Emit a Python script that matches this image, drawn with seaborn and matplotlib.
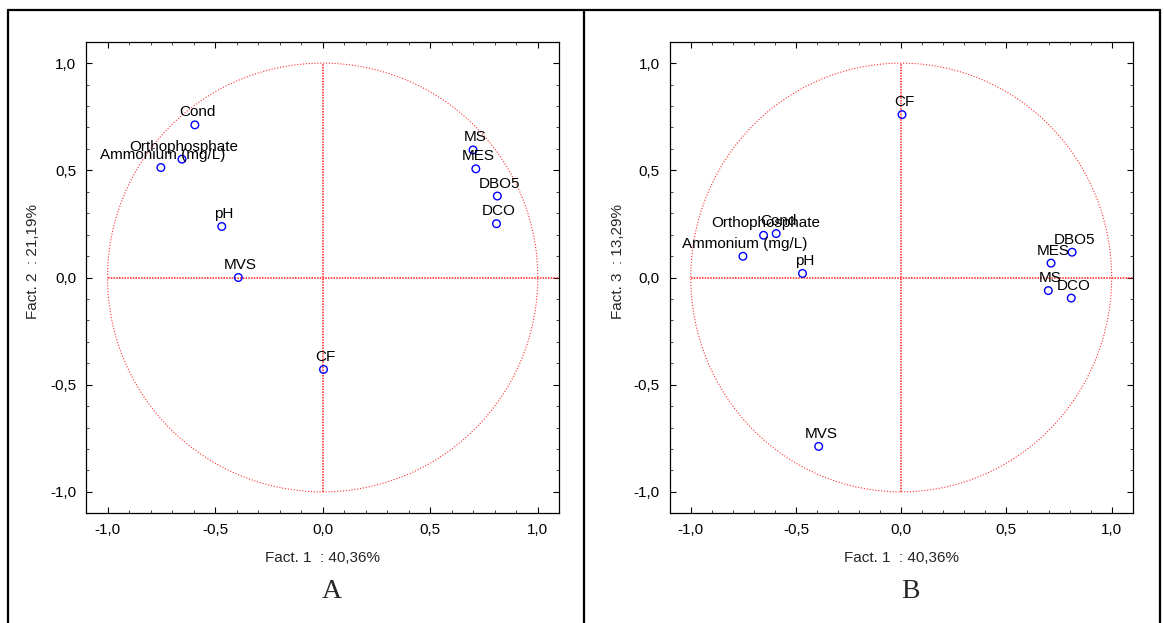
import numpy as np
import pandas as pd
import matplotlib
matplotlib.use("Agg")
import matplotlib.pyplot as plt
from matplotlib.patches import Circle
from matplotlib.lines import Line2D
from matplotlib.ticker import FixedLocator, FuncFormatter, MultipleLocator
import seaborn as sns

# ---------------- data ----------------
variables = ["Cond", "Orthophosphate", "Ammonium (mg/L)", "pH", "MVS",
             "CF", "MS", "MES", "DBO5", "DCO"]
fact1 = [-0.594, -0.654, -0.752, -0.469, -0.392, 0.004, 0.699, 0.712, 0.812, 0.808]
fact2 = [0.712, 0.552, 0.513, 0.238, 0.0, -0.429, 0.595, 0.507, 0.380, 0.251]
fact3 = [0.205, 0.197, 0.099, 0.019, -0.788, 0.760, -0.061, 0.067, 0.118, -0.096]

tick_values = [-1.0, -0.5, 0.0, 0.5, 1.0]
xlabel_text = "Fact. 1  : 40,36%"
ylabel_A = "Fact. 2  : 21,19%"
ylabel_B = "Fact. 3  : 13,29%"
panel_letters = ["A", "B"]

df = pd.DataFrame({"var": variables, "f1": fact1, "f2": fact2, "f3": fact3})

# ---------------- style ----------------
sns.set_style("ticks")
plt.rcParams["font.family"] = ["Liberation Sans", "DejaVu Sans"]
plt.rcParams["font.size"] = 11

W, H = 1164, 623
fig = plt.figure(figsize=(W / 100, H / 100), dpi=100)

def frac(l, t, r, b):
    return [l / W, 1 - b / H, (r - l) / W, (b - t) / H]

axA = fig.add_axes(frac(86, 41.7, 559.3, 513.3))
axB = fig.add_axes(frac(669.7, 41.7, 1132.7, 513.3))

comma_fmt = FuncFormatter(lambda v, p: f"{v:.1f}".replace(".", ","))

def draw(ax, ycol, ylabel, letter):
    ax.set_xlim(-1.1, 1.1)
    ax.set_ylim(-1.1, 1.1)
    # unit circle and axes cross
    ax.add_patch(Circle((0, 0), 1.0, fill=False, edgecolor="#ff3030",
                        linestyle=(0, (1, 1.6)), linewidth=0.8, zorder=1))
    ax.plot([-1.0, 1.1], [0, 0], color="#ff2020", linestyle=(0, (1, 0.8)),
            linewidth=1.1, zorder=1)
    ax.plot([0, 0], [-1.0, 1.0], color="#ff2020", linestyle=(0, (1, 0.8)),
            linewidth=1.1, zorder=1)
    sns.scatterplot(data=df, x="f1", y=ycol, ax=ax, marker="o", s=30,
                    facecolor="none", edgecolor="#0000ff", linewidth=1.0,
                    zorder=3, legend=False)
    for _, row in df.iterrows():
        ax.annotate(row["var"], (row["f1"], row[ycol]), xytext=(1.5, 9.0),
                    textcoords="offset points", ha="center", va="center",
                    fontsize=11, color="black", zorder=4)
    ax.xaxis.set_major_locator(FixedLocator(tick_values))
    ax.yaxis.set_major_locator(FixedLocator(tick_values))
    ax.xaxis.set_minor_locator(MultipleLocator(0.1))
    ax.yaxis.set_minor_locator(MultipleLocator(0.1))
    ax.xaxis.set_major_formatter(comma_fmt)
    ax.yaxis.set_major_formatter(comma_fmt)
    ax.tick_params(which="major", direction="in", length=4, width=0.8,
                   top=True, right=True, labelsize=11, pad=7, colors="black")
    ax.tick_params(which="minor", direction="in", length=2, width=0.6,
                   top=True, right=True)
    for s in ax.spines.values():
        s.set_visible(True)
        s.set_linewidth(0.9)
        s.set_color("black")
    ax.set_xlabel(xlabel_text, fontsize=11)
    ax.set_ylabel(ylabel, fontsize=11)
    ax.xaxis.set_label_coords(0.5, -0.08)
    ax.yaxis.set_label_coords(-0.097, 0.533)
    ax.text(0.519, -0.165, letter, transform=ax.transAxes, ha="center",
            va="center", fontsize=20, family="Liberation Serif")

draw(axA, "f2", ylabel_A, panel_letters[0])
draw(axB, "f3", ylabel_B, panel_letters[1])

# outer table frame
lw = 1.6
top = 1 - 10 / H
for xs, ys in [([8 / W, 1160 / W], [top, top]),
               ([8 / W, 8 / W], [0, top]),
               ([1160 / W, 1160 / W], [0, top]),
               ([583.5 / W, 583.5 / W], [0, top])]:
    fig.add_artist(Line2D(xs, ys, color="black", linewidth=lw,
                          transform=fig.transFigure))

fig.savefig("out.png", dpi=100, facecolor="white")
